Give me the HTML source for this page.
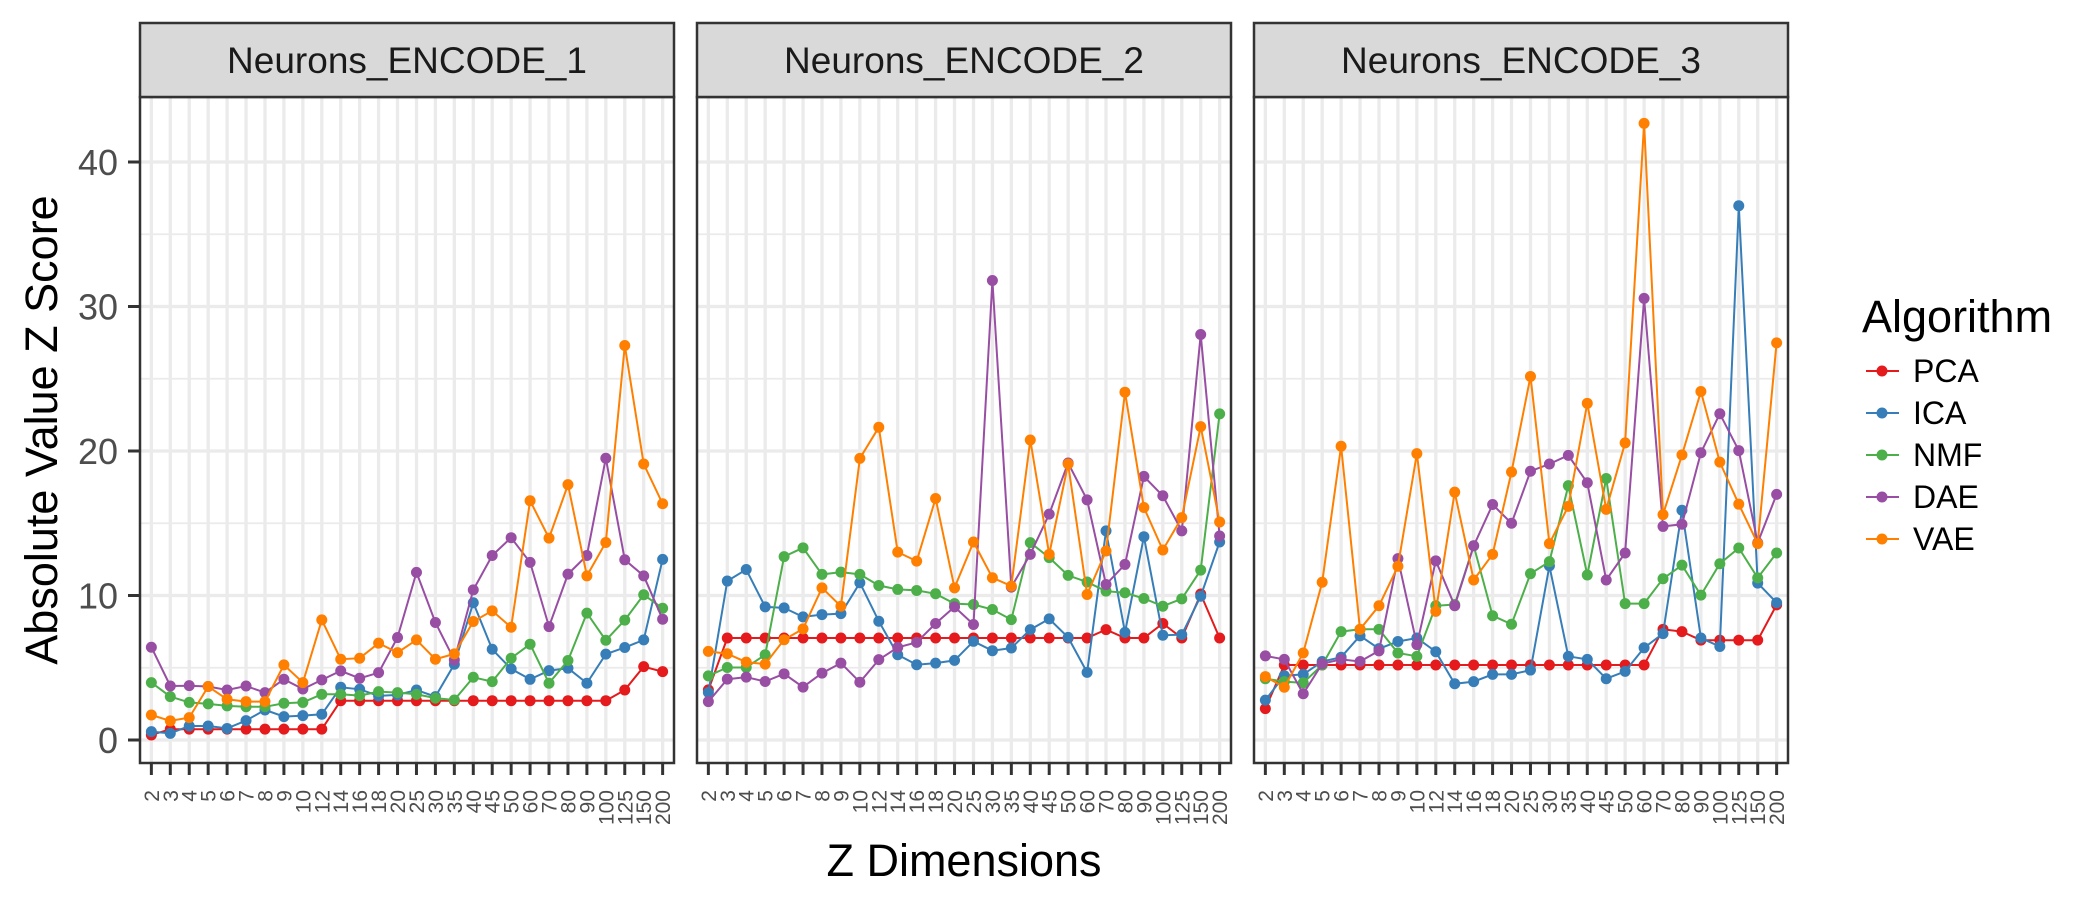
<!DOCTYPE html>
<html><head><meta charset="utf-8"><style>
html,body{margin:0;padding:0;background:#fff;}
svg{display:block;font-family:"Liberation Sans",Arial,sans-serif;}
</style></head><body>
<svg id="chart" width="2100" height="900" viewBox="0 0 2100 900" xmlns="http://www.w3.org/2000/svg"></svg>
<script>
const categories = ["2","3","4","5","6","7","8","9","10","12","14","16","18","20","25","30","35","40","45","50","60","70","80","90","100","125","150","200"];
const panels = ["Neurons_ENCODE_1","Neurons_ENCODE_2","Neurons_ENCODE_3"];
const algorithms = ["PCA","ICA","NMF","DAE","VAE"];
const colors = ["#E41A1C","#377EB8","#4DAF4A","#984EA3","#FF7F00"];
const yTicks = [0,10,20,30,40];
const yMinor = [5,15,25,35];

const p1PCA = [0.35,0.75,0.75,0.75,0.75,0.75,0.75,0.75,0.75,0.75,2.72,2.72,2.72,2.72,2.72,2.72,2.72,2.72,2.72,2.72,2.72,2.72,2.72,2.72,2.72,3.46,5.08,4.73];
const p1ICA = [0.58,0.46,0.97,0.97,0.8,1.34,2.08,1.62,1.69,1.78,3.65,3.51,3.05,3.12,3.46,3.0,5.24,9.5,6.28,4.92,4.2,4.8,4.97,3.93,5.94,6.4,6.93,12.5];
const p1NMF = [3.97,3.0,2.6,2.5,2.36,2.3,2.3,2.54,2.6,3.16,3.16,3.07,3.35,3.28,3.16,2.9,2.77,4.34,4.04,5.66,6.63,3.93,5.5,8.78,6.9,8.3,10.05,9.12];
const p1DAE = [6.42,3.74,3.76,3.7,3.46,3.74,3.28,4.2,3.53,4.16,4.78,4.27,4.66,7.09,11.6,8.13,5.54,10.39,12.77,14.0,12.29,7.85,11.48,12.77,19.5,12.47,11.36,8.36];
const p1VAE = [1.73,1.32,1.55,3.7,2.82,2.66,2.66,5.2,3.97,8.31,5.59,5.66,6.7,6.05,6.93,5.59,5.96,8.2,8.94,7.8,16.56,13.97,17.67,11.36,13.67,27.3,19.1,16.35];

const p2PCA = [3.47,7.06,7.06,7.06,7.06,7.06,7.06,7.06,7.06,7.06,7.06,7.06,7.06,7.06,7.06,7.06,7.06,7.06,7.06,7.06,7.06,7.64,7.06,7.06,8.06,7.06,10.1,7.06];
const p2ICA = [3.29,11.0,11.8,9.21,9.14,8.52,8.68,8.75,10.88,8.22,5.9,5.21,5.32,5.51,6.83,6.18,6.37,7.64,8.38,7.1,4.68,14.47,7.45,14.07,7.25,7.29,9.95,13.7];
const p2NMF = [4.44,5.02,5.02,5.9,12.69,13.3,11.46,11.62,11.46,10.69,10.42,10.35,10.12,9.44,9.38,9.03,8.33,13.66,12.62,11.39,10.93,10.3,10.19,9.79,9.26,9.77,11.76,22.57];
const p2DAE = [2.66,4.21,4.35,4.05,4.58,3.66,4.63,5.32,4.0,5.56,6.41,6.76,8.06,9.21,7.99,31.8,10.58,12.85,15.63,19.17,16.62,10.76,12.15,18.24,16.9,14.47,28.06,14.12];
const p2VAE = [6.13,5.97,5.39,5.25,6.94,7.69,10.53,9.26,19.49,21.64,13.0,12.38,16.71,10.53,13.7,11.23,10.65,20.76,12.85,19.1,10.07,13.08,24.07,16.09,13.15,15.39,21.69,15.09];

const p3PCA = [2.17,5.19,5.19,5.19,5.19,5.19,5.19,5.19,5.19,5.19,5.19,5.19,5.19,5.19,5.19,5.19,5.19,5.19,5.19,5.19,5.19,7.66,7.5,6.91,6.91,6.91,6.91,9.35];
const p3ICA = [2.76,4.45,4.54,5.43,5.73,7.21,6.32,6.82,7.06,6.11,3.89,4.04,4.54,4.54,4.84,12.05,5.79,5.58,4.24,4.75,6.38,7.36,15.9,7.06,6.47,36.97,10.86,9.5];
const p3NMF = [4.24,4.04,3.95,5.19,7.5,7.66,7.66,6.02,5.79,9.29,9.38,13.44,8.6,8.01,11.51,12.34,17.6,11.42,18.1,9.44,9.44,11.16,12.1,10.03,12.2,13.29,11.22,12.94];
const p3DAE = [5.82,5.58,3.2,5.28,5.58,5.43,6.17,12.55,6.6,12.4,9.29,13.44,16.3,15.0,18.6,19.1,19.7,17.8,11.07,12.94,30.56,14.78,14.93,19.88,22.58,20.03,13.65,17.0];
const p3VAE = [4.39,3.65,6.02,10.92,20.33,7.66,9.29,12.02,19.82,8.9,17.15,11.07,12.85,18.55,25.16,13.59,16.17,23.3,15.96,20.56,42.67,15.6,19.73,24.12,19.23,16.32,13.59,27.48];

const panelSeries = [
  [p1PCA,p1ICA,p1NMF,p1DAE,p1VAE],
  [p2PCA,p2ICA,p2NMF,p2DAE,p2VAE],
  [p3PCA,p3ICA,p3NMF,p3DAE,p3VAE]
];

const NS = "http://www.w3.org/2000/svg";
const svg = document.getElementById("chart");
function mk(tag, attrs, parent){
  const e = document.createElementNS(NS, tag);
  for (const k in attrs) e.setAttribute(k, attrs[k]);
  (parent||svg).appendChild(e);
  return e;
}
const panelLefts = [140, 697, 1254];
const panelW = 534;
const plotTop = 97, plotBottom = 763, stripTop = 23;
const yZero = 740, yPerUnit = 14.45;
const step = panelW / (categories.length - 1 + 1.2);
function yScale(v){ return yZero - v * yPerUnit; }
function xScale(p, i){ return panelLefts[p] + step*0.6 + i*step; }

const yAxis = mk("g", {});


yTicks.forEach(t => {
  const y = yScale(t);
  const tk = mk("line", {x1:128, x2:140, y1:y, y2:y, stroke:"#333", "stroke-width":3}, yAxis);
  
  
  const lb = mk("text", {x:118, y:y+13, "text-anchor":"end", "font-size":36, fill:"#4d4d4d"}, yAxis);
  
  
  lb.textContent = t;
});

panels.forEach((name, p) => {
  const L = panelLefts[p];
  const g = mk("g", {});
  
  
  yMinor.forEach(t => {
    const y = yScale(t);
    const l = mk("line", {x1:L, x2:L+panelW, y1:y, y2:y, stroke:"#ebebeb", "stroke-width":1.7}, g);
    
    
  });
  yTicks.forEach(t => {
    const y = yScale(t);
    const l = mk("line", {x1:L, x2:L+panelW, y1:y, y2:y, stroke:"#ebebeb", "stroke-width":3.3}, g);
    
    
  });
  categories.forEach((c, i) => {
    const x = xScale(p, i);
    const l = mk("line", {x1:x, x2:x, y1:plotTop, y2:plotBottom, stroke:"#ebebeb", "stroke-width":3.3}, g);
    
    
    const tk = mk("line", {x1:x, x2:x, y1:plotBottom, y2:plotBottom+12, stroke:"#333", "stroke-width":3}, g);
    
    
    const lb = mk("text", {x:0, y:0, "text-anchor":"end", "font-size":21, fill:"#4d4d4d",
      transform:"translate(" + (x+7.5) + "," + (plotBottom+27) + ") rotate(-90)"}, g);
    
    
    lb.textContent = c;
  });
  panelSeries[p].forEach((vals, s) => {
    const sg = mk("g", {}, g);
    
    
    const pts = vals.map((v, i) => xScale(p, i).toFixed(1) + "," + yScale(v).toFixed(1)).join(" ");
    const pl = mk("polyline", {points:pts, fill:"none", stroke:colors[s], "stroke-width":2}, sg);
    
    
    vals.forEach((v, i) => {
      const c = mk("circle", {cx:xScale(p, i), cy:yScale(v), r:5.5, fill:colors[s]}, sg);
      
      
    });
  });
  const b = mk("rect", {x:L, y:plotTop, width:panelW, height:plotBottom-plotTop, fill:"none", stroke:"#333", "stroke-width":2.5}, g);
  
  
  const st = mk("rect", {x:L, y:stripTop, width:panelW, height:plotTop-stripTop, fill:"#d9d9d9", stroke:"#333", "stroke-width":2.5}, g);
  
  
  const stt = mk("text", {x:L+panelW/2, y:(stripTop+plotTop)/2+13, "text-anchor":"middle", "font-size":37, fill:"#1a1a1a"}, g);
  
  
  stt.textContent = name;
});

const yt = mk("text", {x:0, y:0, "text-anchor":"middle", "font-size":45, fill:"#000", transform:"translate(57,430) rotate(-90)"});


yt.textContent = "Absolute Value Z Score";
const xt = mk("text", {x:964, y:876, "text-anchor":"middle", "font-size":45, fill:"#000"});


xt.textContent = "Z Dimensions";

const lg = mk("g", {});


const lt = mk("text", {x:1862, y:332, "font-size":45, fill:"#000"}, lg);


lt.textContent = "Algorithm";
algorithms.forEach((a, s) => {
  const y = 371 + s*42;
  const e = mk("g", {}, lg);
  
  
  mk("line", {x1:1866, x2:1899, y1:y, y2:y, stroke:colors[s], "stroke-width":2}, e);
  mk("circle", {cx:1882, cy:y, r:5.5, fill:colors[s]}, e);
  const t = mk("text", {x:1913, y:y+11, "font-size":32, fill:"#000"}, e);
  
  
  t.textContent = a;
});
</script>
</body></html>
